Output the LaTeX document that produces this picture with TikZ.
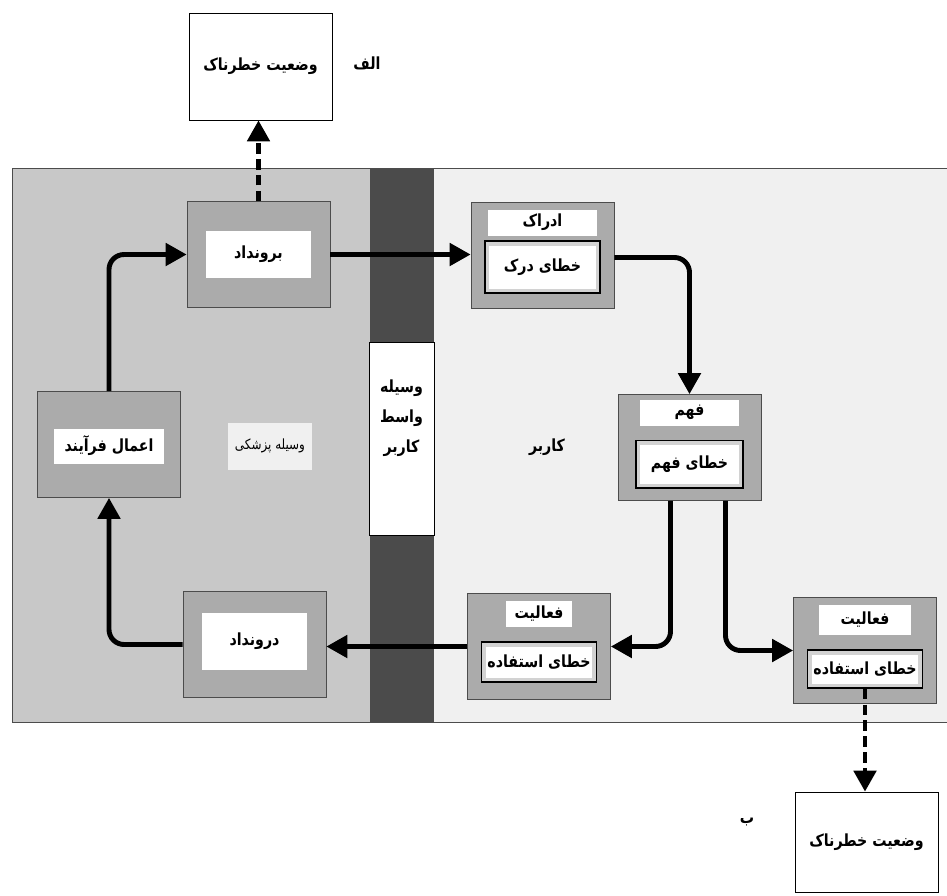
\documentclass[tikz,border=0pt]{standalone}
\usepackage{fontspec}
\newfontfamily\fa[Script=Arabic, FakeStretch=0.85]{DejaVu Sans}
\TeXXeTstate=1
\usetikzlibrary{positioning,arrows.meta}
\newcommand{\fatxt}[1]{\beginR #1\endR}
\definecolor{devgray}{HTML}{C8C8C8}
\definecolor{bandgray}{HTML}{4B4B4B}
\definecolor{usergray}{HTML}{F0F0F0}
\definecolor{boxgray}{HTML}{ABABAB}
\begin{document}
\begin{tikzpicture}[x=0.02cm, y=-0.02cm,
  font=\fa\bfseries\fontsize{9.5}{12}\selectfont,
  stage/.style={draw=black!70, fill=boxgray, minimum width=2.86cm, minimum height=2.12cm},
  tag/.style={fill=white, inner sep=0pt, minimum width=2.1cm, minimum height=0.95cm},
  head/.style={fill=white, inner sep=0pt, minimum width=2.2cm, minimum height=0.52cm},
  slip/.style={draw, thick, fill=white, inner sep=0pt, minimum width=2.3cm, minimum height=0.95cm,
    path picture={\draw[gray!35, line width=5pt] (path picture bounding box.south west) rectangle (path picture bounding box.north east);}},
  hazard/.style={draw, fill=white, minimum width=2.86cm, minimum height=2.14cm},
  flow/.style={line width=2.8pt, rounded corners=0.3cm, -{Triangle[length=0.42cm, width=0.44cm]}},
  risk/.style={flow, dash pattern=on 6pt off 3pt}
]
\useasboundingbox (0,0) rectangle (947,896);
\fill[devgray] (12,168) rectangle (370,722);
\fill[bandgray] (370,168) rectangle (434,722);
\fill[usergray] (434,168) rectangle (947,722);
\draw[black!70] (947,168) -- (12,168) -- (12,722) -- (947,722);

\node[hazard] (risktop) at (260.5,66.5) {\fatxt{وضعیت خطرناک}};
\node (alef) at (367,63) {\fatxt{الف}};
\node[hazard, minimum height=2cm] (riskbot) at (866.5,842) {\fatxt{وضعیت خطرناک}};
\node (be) at (747,822) {\fatxt{ب}};

\node[stage] (output) at (258.5,254.5) {};
\node[tag] (output-t) at (output) {\fatxt{برونداد}};
\node[stage] (process) at (109,444.5) {};
\node[tag, minimum width=2.22cm, minimum height=0.7cm] (process-t) at (109,446) {\fatxt{اعمال فرآیند}};
\node[stage] (input) at (254.5,644.5) {};
\node[tag, minimum height=1.14cm] (input-t) at (254.5,641.5) {\fatxt{درونداد}};
\node[fill=gray!12, minimum width=1.7cm, minimum height=0.94cm, font=\fa\fontsize{8}{10}\selectfont] (device) at (270,446) {\fatxt{وسیله پزشکی}};

\node[draw, fill=white, minimum width=1.3cm, minimum height=3.86cm] (mediator) at (401.5,438.5) {};
\node[align=center] (mediator-t) at (401.5,418) {\fatxt{وسیله}\\[5pt]\fatxt{واسط}\\[5pt]\fatxt{کاربر}};
\node (user) at (547,447) {\fatxt{کاربر}};

\node[stage] (perceive) at (542.5,255.5) {};
\node[head, below=0.14cm of perceive.north] (perceive-h) {\fatxt{ادراک}};
\node[slip, above=0.3cm of perceive.south, minimum height=1.04cm] (perceive-e) {\fatxt{خطای درک}};
\node[stage] (grasp) at (689.5,447.5) {};
\node[head, below=0.1cm of grasp.north, minimum width=2cm] (grasp-h) {\fatxt{فهم}};
\node[slip, above=0.24cm of grasp.south, minimum width=2.14cm] (grasp-e) {\fatxt{خطای فهم}};
\node[stage] (act1) at (539,646.5) {};
\node[head, below=0.14cm of act1.north, minimum width=1.34cm] (act1-h) {\fatxt{فعالیت}};
\node[slip, above=0.34cm of act1.south, minimum height=0.8cm] (act1-e) {\fatxt{خطای استفاده}};
\node[stage] (act2) at (865,650.5) {};
\node[head, below=0.14cm of act2.north, minimum width=1.84cm, minimum height=0.6cm] (act2-h) {\fatxt{فعالیت}};
\node[slip, above=0.3cm of act2.south, minimum height=0.76cm] (act2-e) {\fatxt{خطای استفاده}};

\draw[flow] (process.north) |- (output.west);
\draw[flow] (output.east) -- (output.east -| perceive.west);
\draw[flow] ([yshift=-0.04cm]perceive.east) -| (grasp.north);
\draw[flow] ([xshift=-0.38cm]grasp.south) |- (act1.east);
\draw[flow] ([xshift=0.72cm]grasp.south) |- (act2.west);
\draw[flow] (act1.west) -- (act1.west -| input.east);
\draw[flow] (input.west) -| (process.south);
\draw[risk] (output.north) -- (output.north |- risktop.south);
\draw[risk] (act2-e.south) -- (act2-e.south |- riskbot.north);
\end{tikzpicture}
\end{document}
